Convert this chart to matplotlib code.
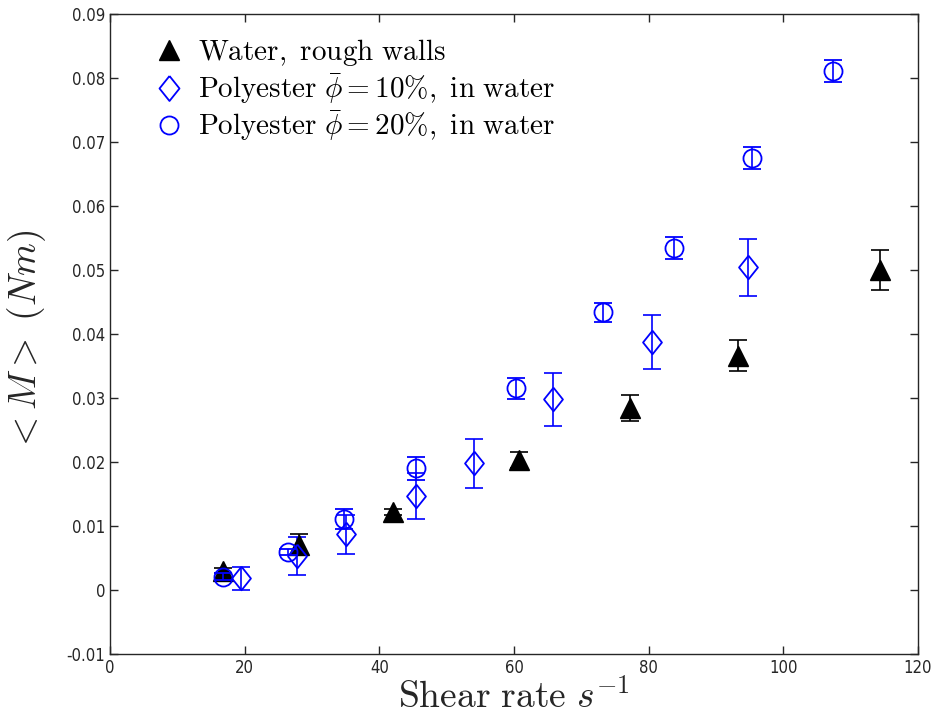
import matplotlib
matplotlib.use("Agg")
import matplotlib.pyplot as plt
from matplotlib.lines import Line2D
from matplotlib.ticker import FuncFormatter, MultipleLocator
import numpy as np

# Water, rough walls
water_x = [16.8, 28.0, 42.0, 60.8, 77.3, 93.2, 114.3]
water_y = [0.0030, 0.0071, 0.0122, 0.0203, 0.0284, 0.0366, 0.0500]
water_err = [0.0004, 0.0016, 0.0005, 0.0012, 0.0020, 0.0024, 0.0032]

# Polyester 10%
p10_x = [19.5, 27.7, 35.0, 45.5, 54.0, 65.8, 80.5, 94.8]
p10_y = [0.0018, 0.0053, 0.0087, 0.0147, 0.0198, 0.0298, 0.0388, 0.0504]
p10_err = [0.0018, 0.0030, 0.0030, 0.0036, 0.0038, 0.0041, 0.0042, 0.0045]

# Polyester 20%
p20_x = [16.8, 26.5, 34.8, 45.5, 60.3, 73.2, 83.8, 95.3, 107.4]
p20_y = [0.0021, 0.0059, 0.0111, 0.0190, 0.0315, 0.0434, 0.0534, 0.0675, 0.0811]
p20_err = [0.0006, 0.0005, 0.0015, 0.0018, 0.0017, 0.0015, 0.0017, 0.0017, 0.0017]

labels = [r'$\mathrm{Water,\ rough\ walls}$',
          r'$\mathrm{Polyester}\ \bar{\phi}=10\%\mathrm{,\ in\ water}$',
          r'$\mathrm{Polyester}\ \bar{\phi}=20\%\mathrm{,\ in\ water}$']

plt.rcParams['mathtext.fontset'] = 'cm'

diamond = [(0, 1.25), (1, 0), (0, -1.25), (-1, 0), (0, 1.25)]

fig = plt.figure(figsize=(9.37, 7.16), dpi=100)
ax = fig.add_axes([0.1174, 0.0866, 0.8623, 0.8938])

blue = '#0000ff'
ax.errorbar(water_x, water_y, yerr=water_err, fmt='^', color='black', ms=15,
            mfc='black', mec='black', capsize=6.5, elinewidth=1.2, capthick=1.2, zorder=3)
ax.errorbar(p10_x, p10_y, yerr=p10_err, fmt='none', ecolor=blue,
            capsize=6.5, elinewidth=1.2, capthick=1.2, zorder=3)
ax.plot(p10_x, p10_y, linestyle='none', marker=diamond, ms=17, mfc='none',
        mec=blue, mew=1.3, zorder=4)
ax.errorbar(p20_x, p20_y, yerr=p20_err, fmt='o', color=blue, ms=13,
            mfc='none', mec=blue, mew=1.3, capsize=6.5, elinewidth=1.2, capthick=1.2, zorder=4)

ax.set_xlim(0, 120)
ax.set_ylim(-0.01, 0.09)
ax.xaxis.set_major_locator(MultipleLocator(20))
ax.yaxis.set_major_locator(MultipleLocator(0.01))
ax.yaxis.set_major_formatter(FuncFormatter(lambda v, p: ('%g' % round(v, 4)) if abs(v) > 1e-9 else '0'))
ax.xaxis.set_major_formatter(FuncFormatter(lambda v, p: '%g' % round(v, 4)))

gray = '#262626'
for s in ax.spines.values():
    s.set_color(gray)
    s.set_linewidth(1.0)
ax.tick_params(direction='in', top=True, right=True, length=6, width=1.0,
               colors=gray, labelsize=12)
for lab in ax.get_xticklabels() + ax.get_yticklabels():
    lab.set_fontfamily('DejaVu Sans')
    lab.set_fontstretch('condensed')

ax.set_xlabel(r'$\mathrm{Shear\ rate}\ s^{-1}$', fontsize=27, color=gray, labelpad=2)
ax.set_ylabel(r'$<M>\ (Nm)$', fontsize=27, color=gray)
ax.yaxis.set_label_coords(-0.0767, 0.49)

handles = [
    Line2D([], [], linestyle='none', marker='^', color='black', mfc='black', ms=14),
    Line2D([], [], linestyle='none', marker=diamond, mfc='none', mec=blue, mew=1.3, ms=18),
    Line2D([], [], linestyle='none', marker='o', mfc='none', mec=blue, mew=1.3, ms=13),
]
ax.legend(handles, labels, loc='upper left', frameon=False, fontsize=21,
          handlelength=1.0, handletextpad=0.5, labelspacing=0.1,
          bbox_to_anchor=(0.04, 0.982), borderaxespad=0)

fig.savefig('out.png', dpi=100)
